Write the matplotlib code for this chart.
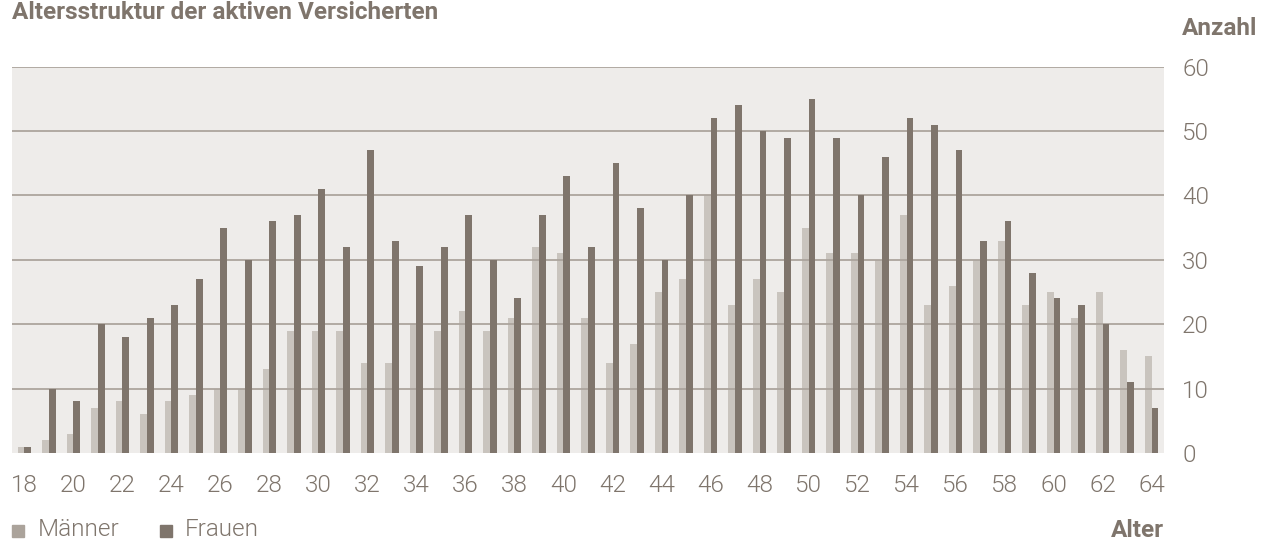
import numpy as np
import matplotlib
matplotlib.use("Agg")
import matplotlib.pyplot as plt
from matplotlib.patches import Rectangle

# ages and counts
ages = list(range(18, 65))
maenner = [1, 2, 3, 7, 8, 6, 8, 9, 10, 10, 13, 19, 19, 19, 14, 14, 20, 19, 22, 19,
           21, 32, 31, 21, 14, 17, 25, 27, 40, 23, 27, 25, 35, 31, 31, 30, 37, 23,
           26, 30, 33, 23, 25, 21, 25, 16, 15]
frauen = [1, 10, 8, 20, 18, 21, 23, 27, 35, 30, 36, 37, 41, 32, 47, 33, 29, 32, 37,
          30, 24, 37, 43, 32, 45, 38, 30, 40, 52, 54, 50, 49, 55, 49, 40, 46, 52,
          51, 47, 33, 36, 28, 24, 23, 20, 11, 7]
y_ticks = [0, 10, 20, 30, 40, 50, 60]

c_light = "#c9c4be"
c_dark = "#7f756c"
c_grid = "#aca49d"
c_bg = "#eeecea"
c_text = "#7f756c"

plt.rcParams["font.family"] = ["Roboto", "DejaVu Sans"]
fs = 17.5
thin = 300

W, H = 1261, 541
fig = plt.figure(figsize=(W / 100, H / 100), dpi=100)
ax = fig.add_axes([12 / W, (H - 453) / H, (1164 - 12) / W, (453 - 66.7) / H])
ax.set_facecolor(c_bg)

x = np.arange(len(ages))
bw = 0.275
ax.bar(x - bw / 2, maenner, width=bw, color=c_light, zorder=1)
ax.bar(x + bw / 2, frauen, width=bw, color=c_dark, zorder=3)

for v in y_ticks[1:]:
    ax.axhline(v, color=c_grid, lw=1.3, zorder=2)

ax.set_xlim(-0.5, len(ages) - 0.5)
ax.set_ylim(0, 60)
for s in ax.spines.values():
    s.set_visible(False)

ax.yaxis.tick_right()
ax.set_yticks(y_ticks)
ax.set_yticklabels([str(v) for v in y_ticks])
ax.set_xticks(x[::2])
ax.set_xticklabels([str(a) for a in ages[::2]])
ax.tick_params(axis="both", length=0, colors=c_text, labelsize=fs)
ax.tick_params(axis="x", pad=15)
ax.tick_params(axis="y", pad=13)
for lab in ax.get_xticklabels() + ax.get_yticklabels():
    lab.set_fontweight(thin)

fig.text(12 / W, 1 - 19 / H, "Altersstruktur der aktiven Versicherten",
         fontsize=fs, fontweight="bold", color=c_text, va="baseline", ha="left")
fig.text(1257 / W, 1 - 35 / H, "Anzahl", fontsize=fs, fontweight="bold",
         color=c_text, va="baseline", ha="right")
fig.text(1164 / W, 1 - 537 / H, "Alter", fontsize=fs, fontweight="bold",
         color=c_text, va="baseline", ha="right")

# legend
sq = 12
fig.patches.append(Rectangle((12 / W, 1 - 537 / H), sq / W, sq / H,
                             transform=fig.transFigure, color="#aba39b"))
fig.text(38 / W, 1 - 536 / H, "Männer", fontsize=fs, fontweight=thin,
         color=c_text, va="baseline", ha="left")
fig.patches.append(Rectangle((160 / W, 1 - 537 / H), sq / W, sq / H,
                             transform=fig.transFigure, color=c_dark))
fig.text(185 / W, 1 - 536 / H, "Frauen", fontsize=fs, fontweight=thin,
         color=c_text, va="baseline", ha="left")

fig.savefig("out.png", dpi=100, facecolor="white")
